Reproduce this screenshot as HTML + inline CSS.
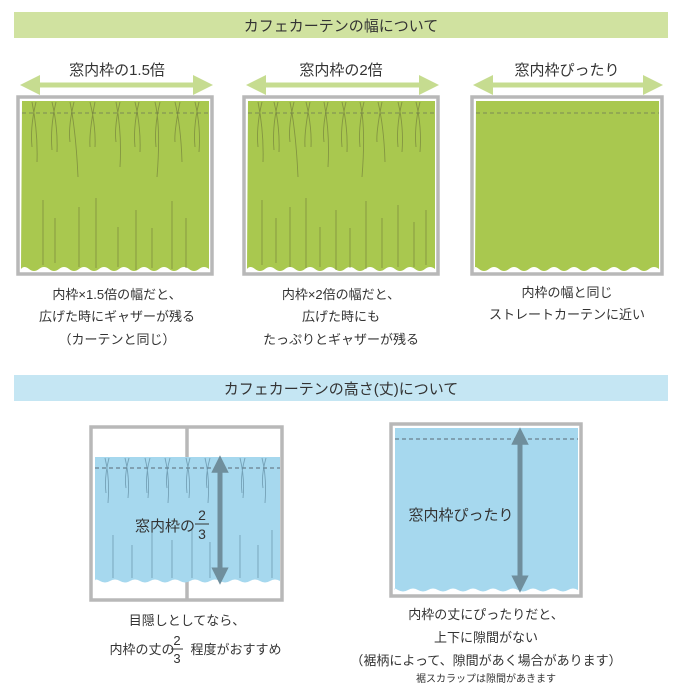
<!DOCTYPE html>
<html><head><meta charset="utf-8"><style>
body{margin:0;background:#fff}
svg{display:block}
text{font-family:"Liberation Sans","Noto Sans CJK JP",sans-serif;fill:#333;text-anchor:middle}
</style></head><body>
<svg width="695" height="695" viewBox="0 0 695 695" xmlns="http://www.w3.org/2000/svg">
<defs>
<marker id="ga" viewBox="0 0 10 10" refX="5" refY="5" markerWidth="4" markerHeight="4" orient="auto-start-reverse"><path d="M0,0L10,5L0,10z" fill="#c6dc90"/></marker>
<marker id="ba" viewBox="0 0 10 10" refX="5" refY="5" markerWidth="3.5" markerHeight="3.5" orient="auto-start-reverse"><path d="M0,0L10,5L0,10z" fill="#6f8e9c"/></marker>
</defs>
<rect x="14" y="12" width="654" height="26" fill="#d0e2a0"/>
<text x="341" y="31" font-size="15">カフェカーテンの幅について</text>
<rect x="14" y="375" width="654" height="26" fill="#c5e6f3"/>
<text x="341" y="394" font-size="15">カフェカーテンの高さ(丈)について</text>

<g font-size="15">
<text x="117" y="75">窓内枠の1.5倍</text>
<text x="341" y="75">窓内枠の2倍</text>
<text x="567" y="75">窓内枠ぴったり</text>
</g>
<g stroke="#c6dc90" stroke-width="5">
<line x1="30" y1="85" x2="203" y2="85" marker-start="url(#ga)" marker-end="url(#ga)"/>
<line x1="256" y1="85" x2="429" y2="85" marker-start="url(#ga)" marker-end="url(#ga)"/>
<line x1="483" y1="85" x2="653" y2="85" marker-start="url(#ga)" marker-end="url(#ga)"/>
</g>

<g fill="none" stroke="#b8b8b8" stroke-width="3.5">
<rect x="18" y="97" width="194" height="177"/>
<rect x="244" y="97" width="194" height="177"/>
<rect x="472" y="97" width="190" height="177"/>
</g>
<g fill="#a9c84f">
<path d="M22,101H209V269q-5,-4 -10,0t-10,0t-10,0t-10,0t-10,0t-10,0t-10,0t-10,0t-10,0t-10,0t-10,0t-10,0t-10,0t-10,0t-10,0t-10,0t-10,0t-10,0t-8,0Z"/>
<path d="M248,101H435V269q-5,-4 -10,0t-10,0t-10,0t-10,0t-10,0t-10,0t-10,0t-10,0t-10,0t-10,0t-10,0t-10,0t-10,0t-10,0t-10,0t-10,0t-10,0t-10,0t-8,0Z"/>
<path d="M476,101H659V269q-5,-4 -10,0t-10,0t-10,0t-10,0t-10,0t-10,0t-10,0t-10,0t-10,0t-10,0t-10,0t-10,0t-10,0t-10,0t-10,0t-10,0t-10,0t-10,0t-4,0Z"/>
</g>
<g stroke="#7a8a55" stroke-width="1" stroke-dasharray="4,3">
<line x1="22" y1="113" x2="209" y2="113"/>
<line x1="248" y1="113" x2="435" y2="113"/>
<line x1="476" y1="113" x2="659" y2="113"/>
</g>
<g stroke="#6f7a3a" stroke-width="0.9" fill="none" opacity="0.65">
<path d="M32,102q6,30 5,60M36,102q-6,25 -4,45M52,102q6,25 5,50M56,102q-6,25 -4,48M70,102q6,30 8,75M74,102q-6,25 -4,40M90,102q6,25 5,45M95,102q-6,30 -5,45M116,102q6,30 4,65M120,102q-6,25 -4,40M135,102q6,25 5,50M139,102q-6,25 -4,45M155,102q6,25 2,75M160,102q-6,25 -4,45M175,102q6,25 7,60M180,102q-6,30 -5,40M195,102q6,25 4,50M199,102q-6,25 -4,45"/>
<path d="M43,200v65M55,218v45M79,207v60M96,198v70M118,227v40M136,210v60M152,228v40M172,201v68M186,218v50"/>
<path d="M258,102q6,30 5,60M262,102q-6,25 -4,45M274,102q6,25 5,50M278,102q-6,25 -4,48M290,102q6,30 8,75M294,102q-6,25 -4,40M306,102q6,25 5,45M310,102q-6,30 -5,45M324,102q6,30 4,65M328,102q-6,25 -4,40M342,102q6,25 5,50M346,102q-6,25 -4,45M360,102q6,25 2,75M364,102q-6,25 -4,45M378,102q6,25 7,60M382,102q-6,30 -5,40M398,102q6,25 4,50M402,102q-6,25 -4,45M416,102q6,25 4,50M420,102q-6,25 -4,45"/>
<path d="M262,200v65M276,218v45M290,207v60M306,198v70M320,227v40M336,210v60M350,228v40M366,201v68M382,218v50M398,205v62M414,222v45M426,210v55"/>
</g>
<g font-size="13">
<text x="117" y="299">内枠×1.5倍の幅だと、</text>
<text x="117" y="321">広げた時にギャザーが残る</text>
<text x="117" y="344">（カーテンと同じ）</text>
<text x="341" y="299">内枠×2倍の幅だと、</text>
<text x="341" y="321">広げた時にも</text>
<text x="341" y="344">たっぷりとギャザーが残る</text>
<text x="567" y="297">内枠の幅と同じ</text>
<text x="567" y="319">ストレートカーテンに近い</text>
</g>

<g fill="none" stroke="#b8b8b8" stroke-width="3.5">
<rect x="91" y="427" width="191" height="173"/>
<line x1="187" y1="427" x2="187" y2="600"/>
<rect x="391" y="424" width="190" height="172"/>
</g>
<path d="M95,457H280V581q-5,-3 -10,0t-10,0t-10,0t-10,0t-10,0t-10,0t-10,0t-10,0t-10,0t-10,0t-10,0t-10,0t-10,0t-10,0t-10,0t-10,0t-10,0t-10,0t-5,0Z" fill="#a6d8ee"/>
<line x1="95" y1="468" x2="280" y2="468" stroke="#5a6a75" stroke-dasharray="4,3"/>
<g stroke="#5f8aa0" stroke-width="0.9" fill="none" opacity="0.7">
<path d="M105,458q5,20 3,45M109,458q-5,20 -3,35M125,458q5,20 3,40M129,458q-5,18 -3,30M145,458q5,20 3,40M150,458q-5,18 -3,35M165,458q5,20 3,45M170,458q-5,18 -3,30M186,458q5,20 3,40M190,458q-5,18 -3,35M205,458q5,20 3,45M210,458q-5,18 -3,30M240,458q5,20 3,40M245,458q-5,18 -3,35M262,458q5,20 3,45M266,458q-5,18 -3,30"/>
<path d="M113,535v43M132,545v33M152,530v48M172,540v38M192,528v50M210,542v36M240,535v43M258,545v33M272,530v48"/>
</g>
<line x1="220" y1="464" x2="220" y2="576" stroke="#6f8e9c" stroke-width="5" marker-start="url(#ba)" marker-end="url(#ba)"/>
<text x="165" y="531" font-size="15">窓内枠の</text>
<text x="202" y="520" font-size="14">2</text>
<line x1="195" y1="524" x2="209" y2="524" stroke="#333" stroke-width="1"/>
<text x="202" y="539" font-size="14">3</text>

<path d="M395,428H578V590q-5,-3 -10,0t-10,0t-10,0t-10,0t-10,0t-10,0t-10,0t-10,0t-10,0t-10,0t-10,0t-10,0t-10,0t-10,0t-10,0t-10,0t-10,0t-10,0t-3,0Z" fill="#a6d8ee"/>
<line x1="395" y1="439" x2="578" y2="439" stroke="#5a6a75" stroke-dasharray="4,3"/>
<line x1="520" y1="436" x2="520" y2="584" stroke="#6f8e9c" stroke-width="5" marker-start="url(#ba)" marker-end="url(#ba)"/>
<text x="461" y="520" font-size="15">窓内枠ぴったり</text>

<g font-size="13">
<text x="187" y="625">目隠しとしてなら、</text>
<text x="142" y="654">内枠の丈の</text>
<text x="177" y="645">2</text>
<line x1="171" y1="649" x2="183" y2="649" stroke="#333"/>
<text x="177" y="663">3</text>
<text x="236" y="654">程度がおすすめ</text>
<text x="486" y="619">内枠の丈にぴったりだと、</text>
<text x="486" y="642">上下に隙間がない</text>
<text x="486" y="665">（裾柄によって、隙間があく場合があります）</text>
<text x="486" y="682" font-size="10">裾スカラップは隙間があきます</text>
</g>
</svg>
</body></html>
